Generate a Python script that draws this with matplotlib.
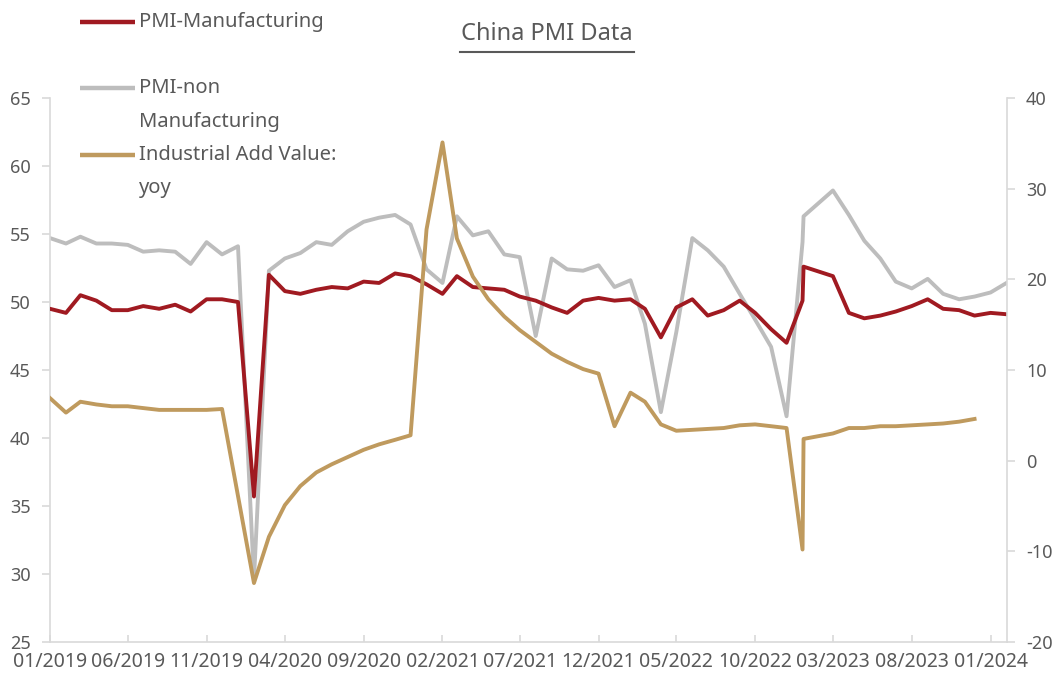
import matplotlib
matplotlib.use('Agg')
import matplotlib.pyplot as plt
import numpy as np
import pandas as pd
from matplotlib.lines import Line2D

plt.rcParams['font.family'] = ['Noto Sans', 'DejaVu Sans']
plt.rcParams['axes.unicode_minus'] = False

# ---------------- data ----------------
dates = [
    '2019-01-01', '2019-02-01', '2019-03-01', '2019-04-01', '2019-05-01', '2019-06-01',
    '2019-07-01', '2019-08-01', '2019-09-01', '2019-10-01', '2019-11-01', '2019-12-01',
    '2020-01-01', '2020-02-01', '2020-03-01', '2020-04-01', '2020-05-01', '2020-06-01',
    '2020-07-01', '2020-08-01', '2020-09-01', '2020-10-01', '2020-11-01', '2020-12-01',
    '2021-01-01', '2021-02-01', '2021-03-01', '2021-04-01', '2021-05-01', '2021-06-01',
    '2021-07-01', '2021-08-01', '2021-09-01', '2021-10-01', '2021-11-01', '2021-12-01',
    '2022-01-01', '2022-02-01', '2022-03-01', '2022-04-01', '2022-05-01', '2022-06-01',
    '2022-07-01', '2022-08-01', '2022-09-01', '2022-10-01', '2022-11-01', '2022-12-01',
    '2023-01-01', '2023-01-03', '2023-03-01', '2023-04-01', '2023-05-01', '2023-06-01',
    '2023-07-01', '2023-08-01', '2023-09-01', '2023-10-01', '2023-11-01', '2023-12-01',
    '2024-01-01', '2024-02-01',
]

pmi_mfg = [
    49.5, 49.2, 50.5, 50.1, 49.4, 49.4, 49.7, 49.5, 49.8, 49.3, 50.2, 50.2,
    50.0, 35.7, 52.0, 50.8, 50.6, 50.9, 51.1, 51.0, 51.5, 51.4, 52.1, 51.9,
    51.3, 50.6, 51.9, 51.1, 51.0, 50.9, 50.4, 50.1, 49.6, 49.2, 50.1, 50.3,
    50.1, 50.2, 49.5, 47.4, 49.6, 50.2, 49.0, 49.4, 50.1, 49.2, 48.0, 47.0,
    50.1, 52.6, 51.9, 49.2, 48.8, 49.0, 49.3, 49.7, 50.2, 49.5, 49.4, 49.0,
    49.2, 49.1,
]

pmi_nonmfg = [
    54.7, 54.3, 54.8, 54.3, 54.3, 54.2, 53.7, 53.8, 53.7, 52.8, 54.4, 53.5,
    54.1, 29.6, 52.3, 53.2, 53.6, 54.4, 54.2, 55.2, 55.9, 56.2, 56.4, 55.7,
    52.4, 51.4, 56.3, 54.9, 55.2, 53.5, 53.3, 47.5, 53.2, 52.4, 52.3, 52.7,
    51.1, 51.6, 48.4, 41.9, 47.8, 54.7, 53.8, 52.6, 50.6, 48.7, 46.7, 41.6,
    54.4, 56.3, 58.2, 56.4, 54.5, 53.2, 51.5, 51.0, 51.7, 50.6, 50.2, 50.4,
    50.7, 51.4,
]

iva_yoy = [
    6.9, 5.3, 6.5, 6.2, 6.0, 6.0, 5.8, 5.6, 5.6, 5.6, 5.6, 5.7,
    np.nan, -13.5, -8.4, -4.9, -2.8, -1.3, -0.4, 0.4, 1.2, 1.8, 2.3, 2.8,
    25.5, 35.1, 24.5, 20.3, 17.8, 15.9, 14.4, 13.1, 11.8, 10.9, 10.1, 9.6,
    3.8, 7.5, 6.5, 4.0, 3.3, 3.4, 3.5, 3.6, 3.9, 4.0, 3.8, 3.6,
    -9.8, 2.4, 3.0, 3.6, 3.6, 3.8, 3.8, 3.9, 4.0, 4.1, 4.3, 4.6,
    np.nan, np.nan,
]

series_names = ['PMI-Manufacturing', 'PMI-non\nManufacturing', 'Industrial Add Value:\nyoy']

xtick_dates = ['2019-01-01', '2019-06-01', '2019-11-01', '2020-04-01', '2020-09-01',
               '2021-02-01', '2021-07-01', '2021-12-01', '2022-05-01', '2022-10-01',
               '2023-03-01', '2023-08-01', '2024-01-01']
xtick_labels = ['01/2019', '06/2019', '11/2019', '04/2020', '09/2020', '02/2021', '07/2021',
                '12/2021', '05/2022', '10/2022', '03/2023', '08/2023', '01/2024']
left_ticks = [25, 30, 35, 40, 45, 50, 55, 60, 65]
right_ticks = [-20, -10, 0, 10, 20, 30, 40]
title = 'China PMI Data'

# ---------------- style ----------------
RED = '#A01A21'
GREY = '#BDBDBD'
GOLD = '#BF9A5E'
TXT = '#595959'
SPINE = '#D9D9D9'
colors = [RED, GREY, GOLD]
W, H = 1055, 677

fig = plt.figure(figsize=(W / 100, H / 100), dpi=100)
ax = fig.add_axes([50 / W, 35 / H, 956.5 / W, 544 / H])

x = pd.to_datetime(dates)
ax.plot(x, pmi_mfg, color=RED, lw=2.8, zorder=3)
ax.plot(x, pmi_nonmfg, color=GREY, lw=2.8, zorder=2)

ax2 = ax.twinx()
iva = np.array(iva_yoy, dtype=float)
m = np.isfinite(iva)
ax2.plot(x[m], iva[m], color=GOLD, lw=2.8)

ax.set_xlim(x[0], x[-1])
ax.set_ylim(left_ticks[0], left_ticks[-1])
ax2.set_ylim(right_ticks[0], right_ticks[-1])
ax.set_yticks(left_ticks)
ax2.set_yticks(right_ticks)
ax2.set_yticklabels([str(v) for v in right_ticks])
ax.set_xticks(pd.to_datetime(xtick_dates))
ax.set_xticklabels(xtick_labels)

for a in (ax, ax2):
    for s in a.spines.values():
        s.set_color(SPINE)
        s.set_linewidth(1.2)
    a.spines['top'].set_visible(False)
ax.spines['right'].set_visible(False)
ax2.spines['left'].set_visible(False)
ax2.spines['bottom'].set_visible(False)

ax.tick_params(axis='x', direction='in', length=5, width=1.2, color=SPINE,
               labelsize=14, labelcolor=TXT, pad=7)
ax.tick_params(axis='y', direction='out', length=6, width=1.2, color=SPINE,
               labelsize=13, labelcolor=TXT, pad=8)
ax2.tick_params(axis='y', direction='out', length=6, width=1.2, color=SPINE,
                labelsize=13, labelcolor=TXT, pad=8)

# ---------------- legend (manual layout) ----------------
legend_rows = [[22], [88, 122], [155, 188]]
for name, col, rows in zip(series_names, colors, legend_rows):
    fig.add_artist(Line2D([80 / W, 135 / W], [1 - rows[0] / H] * 2, color=col, lw=3.2,
                          solid_capstyle='butt', transform=fig.transFigure))
    for line_txt, yp in zip(name.split('\n'), rows):
        fig.text(139 / W, 1 - yp / H, line_txt, ha='left', va='center',
                 fontsize=14.5, color=TXT)

# ---------------- title ----------------
fig.text(547 / W, 1 - 34 / H, title, ha='center', va='center', fontsize=17, color=TXT)
fig.add_artist(Line2D([460 / W, 634 / W], [1 - 51.5 / H] * 2, color=TXT, lw=1.5,
                      transform=fig.transFigure))

fig.savefig('out.png', dpi=100)
